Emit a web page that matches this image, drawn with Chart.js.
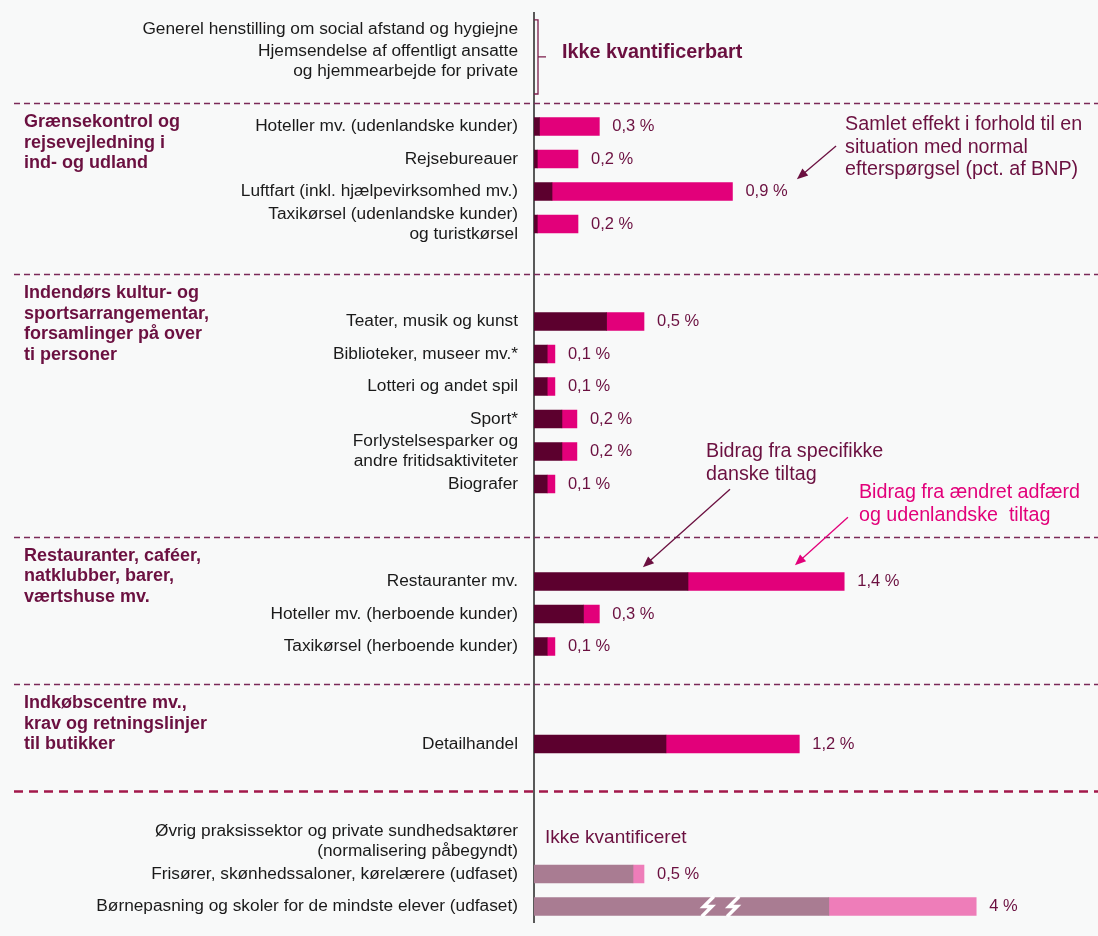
<!DOCTYPE html>
<html>
<head>
<meta charset="utf-8">
<script src="https://cdn.jsdelivr.net/npm/chart.js@4"></script>
<style>
  html, body { margin: 0; padding: 0; background: #f8f9f9; }
  #wrap { width: 1098px; height: 936px; position: relative; }
</style>
</head>
<body>
<div id="wrap"><canvas id="effect-chart"></canvas></div>
<script>
// =====================
// Data (pct. af BNP)
// =====================

// One slot per row, empty strings are the gaps between the groups
const categories = [
    'Generel henstilling om social afstand og hygiejne',
    ['Hjemsendelse af offentligt ansatte', 'og hjemmearbejde for private'],
    '',
    'Hoteller mv. (udenlandske kunder)',
    'Rejsebureauer',
    'Luftfart (inkl. hjælpevirksomhed mv.)',
    ['Taxikørsel (udenlandske kunder)', 'og turistkørsel'],
    '',
    '',
    'Teater, musik og kunst',
    'Biblioteker, museer mv.*',
    'Lotteri og andet spil',
    'Sport*',
    ['Forlystelsesparker og', 'andre fritidsaktiviteter'],
    'Biografer',
    '',
    '',
    'Restauranter mv.',
    'Hoteller mv. (herboende kunder)',
    'Taxikørsel (herboende kunder)',
    '',
    '',
    'Detailhandel',
    '',
    '',
    ['Øvrig praksissektor og private sundhedsaktører', '(normalisering påbegyndt)'],
    'Frisører, skønhedssaloner, kørelærere (udfaset)',
    'Børnepasning og skoler for de mindste elever (udfaset)'
];

// Bidrag fra specifikke danske tiltag
const specificValues = [
    null, null, null,
    0.025, 0.015, 0.082, 0.015,
    null, null,
    0.33, 0.06, 0.06, 0.127, 0.127, 0.06,
    null, null,
    0.70, 0.225, 0.06,
    null, null,
    0.60,
    null, null,
    null, 0.45, 1.34
];

// Bidrag fra ændret adfærd og udenlandske tiltag
const behaviourValues = [
    null, null, null,
    0.272, 0.185, 0.82, 0.185,
    null, null,
    0.17, 0.035, 0.035, 0.068, 0.068, 0.035,
    null, null,
    0.71, 0.072, 0.035,
    null, null,
    0.606,
    null, null,
    null, 0.05, 0.67
];

// Printed totals (the last bar is cut, so its label is not its length)
const totalLabels = [
    '', '', '',
    '0,3 %', '0,2 %', '0,9 %', '0,2 %',
    '', '',
    '0,5 %', '0,1 %', '0,1 %', '0,2 %', '0,2 %', '0,1 %',
    '', '',
    '1,4 %', '0,3 %', '0,1 %',
    '', '',
    '1,2 %',
    '', '',
    '', '0,5 %', '4 %'
];

// Rows that are phased out (drawn in faded colours)
const phasedOutRows = [26, 27];

// Group headings on the left, one per dashed separator
const groupHeaders = [
    ['Grænsekontrol og', 'rejsevejledning i', 'ind- og udland'],
    ['Indendørs kultur- og', 'sportsarrangementar,', 'forsamlinger på over', 'ti personer'],
    ['Restauranter, caféer,', 'natklubber, barer,', 'værtshuse mv.'],
    ['Indkøbscentre mv.,', 'krav og retningslinjer', 'til butikker']
];

// =====================
// Styling / layout
// =====================
const DARK = '#5c002e';
const PINK = '#e2007a';
const MAUVE = '#a97c92';
const LIGHT_PINK = '#ee7db9';
const TEXT_RED = '#6b1040';
const FONT = "'Liberation Sans', Arial, sans-serif";

// separator positions in row units (fractional slot index)
const separatorRows = [2.28, 7.54, 15.63, 20.16, 23.44];

const darkColors = categories.map((c, i) => phasedOutRows.includes(i) ? MAUVE : DARK);
const pinkColors = categories.map((c, i) => phasedOutRows.includes(i) ? LIGHT_PINK : PINK);

Chart.defaults.font.family = FONT;


// Small helpers to convert row / value units into pixels
function rowToY(chart, row) {
    const y = chart.scales.y;
    const y0 = y.getPixelForValue(0);
    const band = y.getPixelForValue(1) - y0;
    return y0 + row * band;
}

function valToX(chart, v) {
    return chart.scales.x.getPixelForValue(v);
}

function drawArrow(ctx, x1, y1, x2, y2, color) {
    const ang = Math.atan2(y2 - y1, x2 - x1);
    const len = 11;
    const half = 4.5;
    ctx.save();
    ctx.strokeStyle = color;
    ctx.fillStyle = color;
    ctx.lineWidth = 1.3;
    ctx.beginPath();
    ctx.moveTo(x1, y1);
    ctx.lineTo(x2 - Math.cos(ang) * len * 0.8, y2 - Math.sin(ang) * len * 0.8);
    ctx.stroke();
    ctx.beginPath();
    ctx.moveTo(x2, y2);
    ctx.lineTo(x2 - Math.cos(ang) * len - Math.sin(ang) * half, y2 - Math.sin(ang) * len + Math.cos(ang) * half);
    ctx.lineTo(x2 - Math.cos(ang) * len + Math.sin(ang) * half, y2 - Math.sin(ang) * len - Math.cos(ang) * half);
    ctx.closePath();
    ctx.fill();
    ctx.restore();
}

function drawLines(ctx, lines, x, y, lineHeight) {
    lines.forEach((line, i) => ctx.fillText(line, x, y + i * lineHeight));
}


// =====================
// Plugin: separators, headings, totals and annotations
// =====================
const decorations = {
    id: 'decorations',
    afterDatasetsDraw(chart) {
        const ctx = chart.ctx;
        const area = chart.chartArea;
        ctx.save();

        // dashed separators
        separatorRows.forEach((row, i) => {
            const y = Math.round(rowToY(chart, row)) + 0.5;
            const last = i === separatorRows.length - 1;
            ctx.beginPath();
            ctx.strokeStyle = last ? '#a3194b' : '#7b2a58';
            ctx.lineWidth = last ? 2.5 : 1.3;
            ctx.setLineDash(last ? [9, 6] : [6, 4]);
            ctx.moveTo(14, y);
            ctx.lineTo(chart.width, y);
            ctx.stroke();
        });
        ctx.setLineDash([]);

        // group headings
        ctx.fillStyle = TEXT_RED;
        ctx.font = 'bold 18px ' + FONT;
        ctx.textAlign = 'left';
        ctx.textBaseline = 'middle';
        groupHeaders.forEach((lines, i) => {
            const y = rowToY(chart, separatorRows[i]) + 19;
            drawLines(ctx, lines, 24, y, 20.5);
        });

        // totals to the right of each bar
        ctx.font = '16.5px ' + FONT;
        ctx.fillStyle = TEXT_RED;
        totalLabels.forEach((label, i) => {
            if (!label) return;
            const total = (specificValues[i] || 0) + (behaviourValues[i] || 0);
            ctx.fillText(label, valToX(chart, total) + 13, rowToY(chart, i));
        });

        // axis break on the childcare bar
        ctx.strokeStyle = '#ffffff';
        ctx.lineWidth = 3.5;
        [0.79, 0.905].forEach(v => {
            const cx = valToX(chart, v);
            const cy = rowToY(chart, 27);
            ctx.beginPath();
            ctx.moveTo(cx + 6, cy - 10);
            ctx.lineTo(cx - 4, cy);
            ctx.lineTo(cx + 4, cy);
            ctx.lineTo(cx - 6, cy + 10);
            ctx.stroke();
        });

        // bracket for the unquantified measures
        const bx = area.left + 4;
        const bTop = rowToY(chart, -0.28);
        const bBot = rowToY(chart, 2.0);
        const bMid = (bTop + bBot) / 2;
        ctx.strokeStyle = '#7b1d4b';
        ctx.lineWidth = 1.3;
        ctx.beginPath();
        ctx.moveTo(bx - 4, bTop);
        ctx.lineTo(bx, bTop);
        ctx.lineTo(bx, bBot);
        ctx.lineTo(bx - 4, bBot);
        ctx.moveTo(bx, bMid);
        ctx.lineTo(bx + 8, bMid);
        ctx.stroke();

        ctx.fillStyle = TEXT_RED;
        ctx.font = 'bold 19.8px ' + FONT;
        ctx.fillText('Ikke kvantificerbart', valToX(chart, 0.127), bMid - 4);

        ctx.font = '19px ' + FONT;
        ctx.fillText('Ikke kvantificeret', valToX(chart, 0.05), rowToY(chart, 24.88));

        // explanatory notes with arrows
        ctx.font = '19.7px ' + FONT;
        drawLines(ctx, ['Samlet effekt i forhold til en', 'situation med normal', 'efterspørgsel (pct. af BNP)'],
            valToX(chart, 1.414), rowToY(chart, 2.95), 22.5);
        drawArrow(ctx, valToX(chart, 1.373), rowToY(chart, 3.6), valToX(chart, 1.195), rowToY(chart, 4.62), TEXT_RED);

        drawLines(ctx, ['Bidrag fra specifikke', 'danske tiltag'],
            valToX(chart, 0.782), rowToY(chart, 13.0), 23);
        drawArrow(ctx, valToX(chart, 0.891), rowToY(chart, 14.16), valToX(chart, 0.495), rowToY(chart, 16.56), TEXT_RED);

        ctx.fillStyle = PINK;
        drawLines(ctx, ['Bidrag fra ændret adfærd', 'og udenlandske  tiltag'],
            valToX(chart, 1.477), rowToY(chart, 14.26), 23);
        drawArrow(ctx, valToX(chart, 1.427), rowToY(chart, 15.02), valToX(chart, 1.186), rowToY(chart, 16.5), PINK);

        ctx.restore();
    }
};


// =====================
// Chart
// =====================
const ctx = document.getElementById('effect-chart').getContext('2d');

const effectChart = new Chart(ctx, {
    type: 'bar',
    data: {
        labels: categories,
        datasets: [
            {
                label: 'Bidrag fra specifikke danske tiltag',
                data: specificValues,
                backgroundColor: darkColors,
                barThickness: 18
            },
            {
                label: 'Bidrag fra ændret adfærd og udenlandske tiltag',
                data: behaviourValues,
                backgroundColor: pinkColors,
                barThickness: 18
            }
        ]
    },
    options: {
        indexAxis: 'y',
        responsive: true,
        maintainAspectRatio: false,
        animation: false,
        layout: {
            padding: { top: 12.75, bottom: 13.25, left: 0, right: 14 }
        },
        plugins: {
            legend: { display: false },
            tooltip: { enabled: false }
        },
        scales: {
            x: {
                stacked: true,
                display: false,
                min: 0,
                max: 2.5
            },
            y: {
                stacked: true,
                // fixed label column, and no extra room above/below for the labels
                afterFit: scale => {
                    scale.width = 534;
                    scale.paddingTop = 0;
                    scale.paddingBottom = 0;
                },
                grid: { display: false, drawTicks: false },
                border: { display: true, color: '#595959', width: 2 },
                ticks: {
                    autoSkip: false,
                    padding: 16,
                    color: '#1a1a1a',
                    font: { size: 17.3, lineHeight: 1.15 }
                }
            }
        }
    },
    plugins: [decorations]
});
</script>
</body>
</html>
